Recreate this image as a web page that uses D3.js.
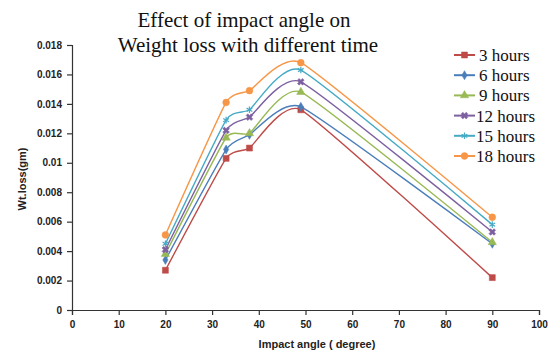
<!DOCTYPE html>
<html lang="en">
<head>
<meta charset="utf-8">
<script src="https://d3js.org/d3.v7.min.js"></script>
<style>
  body { margin: 0; background: #fff; }
  svg { display: block; }
  .tick text { font-family: "Liberation Sans", Arial, sans-serif; font-weight: bold; font-size: 10px; fill: #222; }
</style>
</head>
<body>
<div id="chart"></div>
<script>
// impact angles (degree)
var angles = [20, 33, 38, 49, 90];
// weight loss (gm) per exposure time
var h3  = [0.0027, 0.0103, 0.0110, 0.0136, 0.0022];
var h6  = [0.0034, 0.0109, 0.0119, 0.0138, 0.0045];
var h9  = [0.0038, 0.0117, 0.0120, 0.0148, 0.0046];
var h12 = [0.0041, 0.0122, 0.0131, 0.0155, 0.0053];
var h15 = [0.0045, 0.0129, 0.0136, 0.0163, 0.0058];
var h18 = [0.0051, 0.0141, 0.0149, 0.0168, 0.0063];
var seriesNames = ["3 hours", "6 hours", "9 hours", "12 hours", "15 hours", "18 hours"];
var xTicks = [0, 10, 20, 30, 40, 50, 60, 70, 80, 90, 100];
var yTicks = [0, 0.002, 0.004, 0.006, 0.008, 0.01, 0.012, 0.014, 0.016, 0.018];

var colours = ["#BE4B48", "#4A7EBB", "#98B954", "#7D60A0", "#46AAC5", "#F79646"];
var symbols = [d3.symbolSquare, d3.symbolDiamond, d3.symbolTriangle, d3.symbolCross, d3.symbolAsterisk, d3.symbolCircle];
var symSizes = [36, 24, 30, 28, 30, 36];
var allSeries = [h3, h6, h9, h12, h15, h18];

var W = 551, H = 356;
var svg = d3.select("#chart").append("svg").attr("width", W).attr("height", H);

var x = d3.scaleLinear().domain([0, 100]).range([72, 539]);
var y = d3.scaleLinear().domain([0, 0.018]).range([310, 45]);

// axes
svg.append("g")
    .attr("transform", "translate(0,310)")
    .call(d3.axisBottom(x).tickValues(xTicks).tickSize(5).tickPadding(6).tickFormat(d3.format("d")))
    .call(function(g) { g.selectAll("path, line").attr("stroke", "#333").attr("stroke-width", 1.2); });

svg.append("g")
    .attr("transform", "translate(72,0)")
    .call(d3.axisLeft(y).tickValues(yTicks).tickSize(5).tickPadding(5)
        .tickFormat(function(d) { return d === 0 ? "0" : String(+d.toFixed(3)); }))
    .call(function(g) { g.selectAll("path, line").attr("stroke", "#333").attr("stroke-width", 1.2); });

// axis titles
svg.append("text")
    .attr("transform", "translate(26,179) rotate(-90)")
    .attr("text-anchor", "middle")
    .style("font-family", "Liberation Sans, Arial, sans-serif")
    .style("font-weight", "bold").style("font-size", "11px").style("fill", "#222")
    .text("Wt.loss(gm)");

svg.append("text")
    .attr("x", 317).attr("y", 348)
    .attr("text-anchor", "middle")
    .style("font-family", "Liberation Sans, Arial, sans-serif")
    .style("font-weight", "bold").style("font-size", "11px").style("fill", "#222")
    .text("Impact angle ( degree)");

// chart title
var title = svg.append("text")
    .attr("text-anchor", "middle")
    .style("font-family", "Liberation Serif, 'Times New Roman', serif")
    .style("font-size", "21px").style("fill", "#111");
title.append("tspan").attr("x", 244).attr("y", 27).text("Effect of impact angle on");
title.append("tspan").attr("x", 248).attr("y", 52).text("Weight loss with different time");

// smoothed lines
var line = d3.line()
    .x(function(d, i) { return x(angles[i]); })
    .y(function(d) { return y(d); })
    .curve(d3.curveCardinal.tension(0.55));

allSeries.forEach(function(vals, s) {
    svg.append("path")
        .datum(vals)
        .attr("d", line)
        .attr("fill", "none")
        .attr("stroke", colours[s])
        .attr("stroke-width", 1.4);

    svg.append("g").selectAll("path")
        .data(vals)
        .enter().append("path")
        .attr("transform", function(d, i) { return "translate(" + x(angles[i]) + "," + y(d) + ")" + (s === 3 ? " rotate(45)" : ""); })
        .attr("d", d3.symbol().type(symbols[s]).size(symSizes[s]))
        .attr("fill", colours[s])
        .attr("stroke", colours[s])
        .attr("stroke-width", s === 4 ? 1.2 : 0.5);
});

// legend
var legend = svg.append("g");
seriesNames.forEach(function(name, s) {
    var ly = 55 + s * 20.2;
    legend.append("line")
        .attr("x1", 454).attr("x2", 475).attr("y1", ly).attr("y2", ly)
        .attr("stroke", colours[s]).attr("stroke-width", 2);
    legend.append("path")
        .attr("transform", "translate(464.5," + ly + ")" + (s === 3 ? " rotate(45)" : ""))
        .attr("d", d3.symbol().type(symbols[s]).size(symSizes[s]))
        .attr("fill", colours[s]).attr("stroke", colours[s]).attr("stroke-width", s === 4 ? 1.2 : 0.5);
    legend.append("text")
        .attr("x", s >= 3 ? 476 : 479).attr("y", ly + 6)
        .style("font-family", "Liberation Serif, 'Times New Roman', serif")
        .style("font-size", "17px").style("fill", "#111")
        .text(name);
});
</script>
</body>
</html>
